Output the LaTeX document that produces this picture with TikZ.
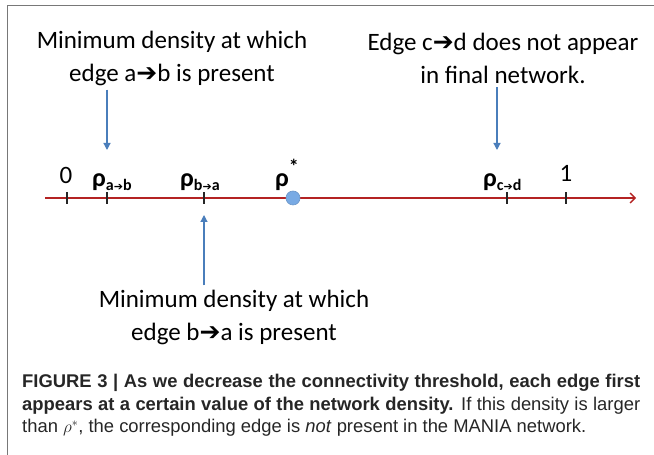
\documentclass[tikz,border=0pt]{standalone}
\usepackage{fontspec}
\setmainfont{Carlito}
\newfontfamily\capfont{Liberation Sans}
\newfontfamily\arrfont{DejaVu Sans}
\usetikzlibrary{arrows.meta}
\definecolor{arrowblue}{RGB}{74,126,187}
\definecolor{axisred}{RGB}{180,35,35}
\definecolor{dotblue}{RGB}{120,170,228}
\definecolor{framegray}{RGB}{120,120,120}

\newcommand{\harr}{{\arrfont\char"2794}}
\newcommand{\subedge}[2]{\raisebox{-3.5pt}{\fontsize{16}{16}\selectfont #1{\arrfont\fontsize{11}{11}\selectfont\char"2794}#2}}

\begin{document}
\begin{tikzpicture}[x=1pt, y=1pt, every node/.style={inner sep=0pt},
  note/.style={align=center, font=\fontsize{25}{33}\selectfont},
  rholbl/.style={anchor=base west, font=\fontsize{26}{26}\selectfont\bfseries},
  numlbl/.style={anchor=base, font=\fontsize{25}{25}\selectfont},
  tick/.style={line width=1.2pt, black!85},
  pointer/.style={line width=1.2pt, arrowblue, -{Triangle[length=7pt,width=7pt]}},
  axis/.style={line width=1.3pt, axisred, -{Straight Barb[length=5pt,width=10pt]}}]
  \useasboundingbox (0,0) rectangle (654,455);
  \draw[framegray, line width=1pt] (7,0) |- (654,449);

  % number line
  \coordinate (axstart) at (45,257);
  \coordinate (axend)   at (636,257);
  \coordinate (tzero) at (67,257);
  \coordinate (tab)   at (107,257);
  \coordinate (tba)   at (204,257);
  \coordinate (tstar) at (293,257);
  \coordinate (tcd)   at (507,257);
  \coordinate (tone)  at (566,257);
  \draw[axis] (axstart) -- (axend);
  \foreach \t in {tzero,tab,tba,tcd,tone}
    \draw[tick] ([yshift=-6pt]\t) -- ([yshift=6pt]\t);
  \fill[dotblue] (tstar) circle (7pt);
  \draw[arrowblue!80!white, line width=0.6pt] (tstar) circle (7pt);

  % labels on the line
  \node[numlbl] (lzero) at (66,271) {0};
  \node[rholbl] (lab)   at (92,268)  {ρ\subedge{a}{b}};
  \node[rholbl] (lba)   at (180,268) {ρ\subedge{b}{a}};
  \node[rholbl] (lstar) at (275,268) {ρ\raisebox{13pt}{\fontsize{20}{20}\selectfont *}};
  \node[rholbl] (lcd)   at (483,268) {ρ\subedge{c}{d}};
  \node[numlbl] (lone)  at (566,273) {1};

  % notes
  \node[note] (abnote) at (172,397) {Minimum density at which\\edge a\harr b is present};
  \node[note] (cdnote) at (503,397) {Edge c\harr d does not appear\\in final network.};
  \node[note] (banote) at (234,138) {Minimum density at which\\edge b\harr a is present};
  \draw[pointer] ([yshift=-4pt]abnote.south -| tab) -- ([yshift=48pt]tab);
  \draw[pointer] ([yshift=-4pt]cdnote.south -| tcd) ++(-10,0) -- ([xshift=-10pt,yshift=48pt]tcd);
  \draw[pointer] ([yshift=4pt]banote.north -| tba) -- ([yshift=-17pt]tba);

  % caption
  \node[anchor=north west, text width=618pt, align=justify, text=black!85,
    font=\capfont\fontsize{18.4}{22.5}\selectfont] (caption) at (22,81)
    {\textbf{FIGURE 3 | As we decrease the connectivity threshold, each edge first}\linebreak
     \textbf{appears at a certain value of the network density.} If this density is larger\linebreak
     than $\rho^{*}$, the corresponding edge is \textit{not} present in the MANIA network.};
\end{tikzpicture}
\end{document}
